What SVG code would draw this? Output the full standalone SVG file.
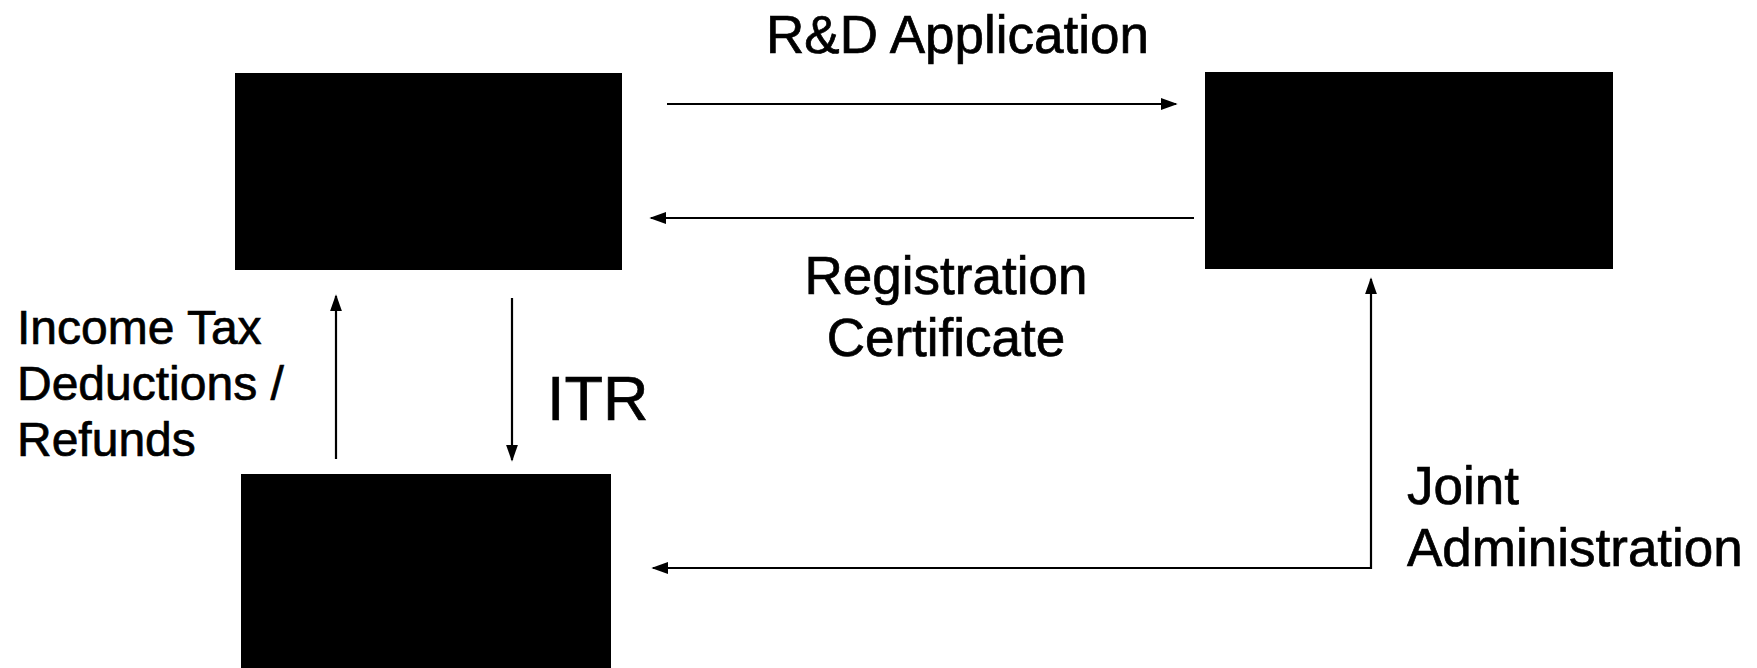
<svg xmlns="http://www.w3.org/2000/svg" width="1757" height="668" viewBox="0 0 1757 668">
  <defs>
    <marker id="arrow" viewBox="0 0 10 10" refX="9" refY="5" markerWidth="17" markerHeight="12" markerUnits="userSpaceOnUse" orient="auto-start-reverse" preserveAspectRatio="none">
      <path d="M0,0 L10,5 L0,10 z" fill="#000"/>
    </marker>
    <style>
      .box { fill: #000; }
      .conn { fill: none; stroke: #000; stroke-width: 2.2; }
      .lbl { font-family: "Liberation Sans", Arial, sans-serif; fill: #000; stroke: #000; stroke-width: 0.7; }
      .big { font-size: 53px; }
      .mid { font-size: 48px; }
      .itr { font-size: 63px; }
    </style>
  </defs>
  <rect width="1757" height="668" fill="#fff"/>

  <!-- entities -->
  <g id="node-top-left"><rect class="box" x="235" y="73" width="387" height="197"/></g>
  <g id="node-top-right"><rect class="box" x="1205" y="72" width="408" height="197"/></g>
  <g id="node-bottom"><rect class="box" x="241" y="474" width="370" height="200"/></g>

  <!-- connectors -->
  <g id="connectors">
    <line class="conn" x1="667" y1="104" x2="1176" y2="104" marker-end="url(#arrow)"/>
    <line class="conn" x1="1194" y1="218" x2="651" y2="218" marker-end="url(#arrow)"/>
    <line class="conn" x1="336" y1="459" x2="336" y2="296" marker-end="url(#arrow)"/>
    <line class="conn" x1="512" y1="298" x2="512" y2="460" marker-end="url(#arrow)"/>
    <polyline class="conn" points="1371,279 1371,568 653,568" marker-start="url(#arrow)" marker-end="url(#arrow)"/>
  </g>

  <!-- labels -->
  <g id="labels">
    <text class="lbl big" x="766" y="53">R&amp;D Application</text>
    <text class="lbl big" x="946" y="294" text-anchor="middle">Registration</text>
    <text class="lbl big" x="946" y="356" text-anchor="middle">Certificate</text>
    <text class="lbl mid" x="17" y="344">Income Tax</text>
    <text class="lbl mid" x="17" y="400">Deductions /</text>
    <text class="lbl mid" x="17" y="456">Refunds</text>
    <text class="lbl itr" x="547" y="420">ITR</text>
    <text class="lbl big" x="1407" y="504">Joint</text>
    <text class="lbl big" x="1407" y="566">Administration</text>
  </g>
</svg>
